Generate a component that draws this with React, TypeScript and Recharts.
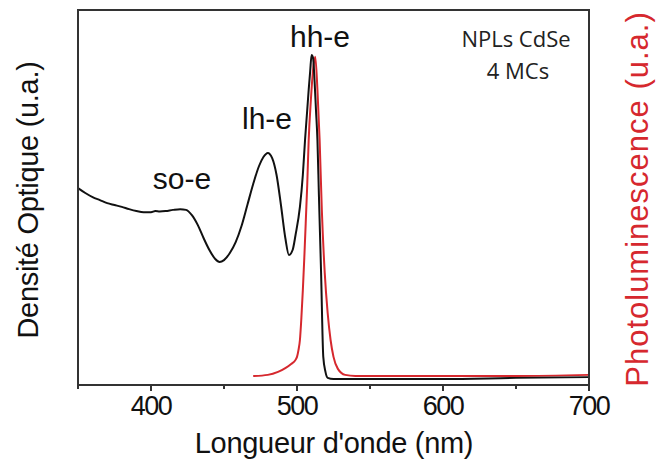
import React from 'react';
import { LineChart, Line, XAxis, YAxis, ReferenceLine } from 'recharts';

// Absorption spectrum (black)
const absWl = [
  350, 355, 360, 365, 370, 375, 380, 385, 390, 395, 400, 403, 406, 410, 415, 420, 424, 428, 432, 436,
  440, 444, 447, 450, 454, 458, 462, 466, 470, 474, 477, 480, 483, 486, 489, 492, 494.5, 497, 499, 502,
  504, 505.5, 507, 508, 509, 510, 511, 512, 513, 514, 515, 516.5, 518, 519.5, 521, 525, 540, 600, 650, 700,
];
const absVal = [
  0.525, 0.512, 0.501, 0.493, 0.485, 0.48, 0.475, 0.469, 0.464, 0.461, 0.461, 0.464, 0.463, 0.464, 0.467, 0.469, 0.467, 0.453, 0.427, 0.392,
  0.36, 0.336, 0.328, 0.333, 0.352, 0.381, 0.424, 0.48, 0.536, 0.584, 0.608, 0.619, 0.605, 0.56, 0.48, 0.392, 0.347, 0.36, 0.4, 0.475,
  0.56, 0.653, 0.733, 0.787, 0.835, 0.88, 0.872, 0.813, 0.733, 0.653, 0.507, 0.299, 0.075, 0.035, 0.019, 0.016, 0.016, 0.016, 0.019, 0.021,
];

// Photoluminescence spectrum (red)
const plWl = [
  470, 480, 487, 492, 496, 499, 500, 501, 502, 503, 504, 505, 505.5, 507, 508, 509.5, 511, 512.5, 514, 515.5,
  517, 519, 521, 523, 525, 528, 533, 540, 600, 650, 700,
];
const plVal = [
  0.024, 0.027, 0.035, 0.045, 0.056, 0.067, 0.075, 0.093, 0.12, 0.179, 0.253, 0.339, 0.387, 0.533, 0.653, 0.76, 0.84, 0.875, 0.787, 0.653,
  0.467, 0.299, 0.192, 0.12, 0.075, 0.043, 0.027, 0.024, 0.024, 0.024, 0.027,
];

const xTicks = [350, 400, 450, 500, 550, 600, 650, 700];
const majorTicks = [400, 500, 600, 700];

const annotations = [
  { text: 'so-e', x: 182, y: 178 },
  { text: 'lh-e', x: 267, y: 118 },
  { text: 'hh-e', x: 320, y: 36 },
];

const rows = (() => {
  const map = new Map<number, { wl: number; abs?: number; pl?: number }>();
  absWl.forEach((w, i) => map.set(w, { ...(map.get(w) || { wl: w }), abs: absVal[i] }));
  plWl.forEach((w, i) => map.set(w, { ...(map.get(w) || { wl: w }), pl: plVal[i] }));
  return Array.from(map.values()).sort((a, b) => a.wl - b.wl);
})();

const FONT = '"Liberation Sans", Arial, sans-serif';
const RED = '#d6282e';
const FRAME = '#333';

const XTick = (props: any) => {
  const { x, y, payload } = props;
  const axisY = y - 12;
  const major = majorTicks.includes(payload.value);
  return (
    <g>
      <line x1={x} x2={x} y1={axisY} y2={axisY + (major ? 6 : 4)} stroke={FRAME} strokeWidth={2} />
      {major && (
        <text x={x} y={axisY + 30} textAnchor="middle" fontFamily={FONT} fontSize={27} letterSpacing={-1.5} fill="#111">
          {payload.value}
        </text>
      )}
    </g>
  );
};

export default function App() {
  return (
    <div style={{ position: 'absolute', left: 0, top: 0, width: 656, height: 470, background: '#fff' }}>
      <LineChart width={656} height={470} data={rows} margin={{ top: 10, right: 0, left: 0, bottom: 0 }}>
        <XAxis
          xAxisId="b"
          dataKey="wl"
          type="number"
          domain={[350, 700]}
          ticks={xTicks}
          height={85}
          tickLine={false}
          tickSize={8}
          tickMargin={4}
          tick={<XTick />}
          axisLine={{ stroke: FRAME, strokeWidth: 2 }}
        />
        <YAxis yAxisId="l" domain={[0, 1]} width={78} tick={false} tickLine={false} axisLine={{ stroke: FRAME, strokeWidth: 2 }} />
        <YAxis yAxisId="r" orientation="right" domain={[0, 1]} width={67} tick={false} tickLine={false} axisLine={false} />
        {/* top and right edges of the box */}
        <ReferenceLine xAxisId="b" yAxisId="l" y={1} stroke={FRAME} strokeWidth={2} ifOverflow="visible" />
        <ReferenceLine xAxisId="b" yAxisId="l" x={700} stroke={FRAME} strokeWidth={2} ifOverflow="visible" />
        <Line
          xAxisId="b"
          yAxisId="l"
          dataKey="pl"
          type="monotone"
          stroke={RED}
          strokeWidth={2}
          dot={false}
          connectNulls
          isAnimationActive={false}
        />
        <Line
          xAxisId="b"
          yAxisId="l"
          dataKey="abs"
          type="monotone"
          stroke="#111"
          strokeWidth={2}
          dot={false}
          connectNulls
          isAnimationActive={false}
        />
        {annotations.map((a) => (
          <text key={a.text} x={a.x} y={a.y} textAnchor="middle" dominantBaseline="central" fontFamily={FONT} fontSize={30} fill="#111">
            {a.text}
          </text>
        ))}
        <text x={516} y={38} textAnchor="middle" dominantBaseline="central" fontFamily='"Open Sans", sans-serif' fontSize={22} fill="#222">
          NPLs CdSe
        </text>
        <text x={518} y={70} textAnchor="middle" dominantBaseline="central" fontFamily='"Open Sans", sans-serif' fontSize={22} fill="#222">
          4 MCs
        </text>
        <text x={334} y={443} textAnchor="middle" dominantBaseline="central" fontFamily={FONT} fontSize={29} letterSpacing={-0.3} fill="#111">
          Longueur d'onde (nm)
        </text>
        <text
          x={28}
          y={200}
          transform="rotate(-90 28 200)"
          textAnchor="middle"
          dominantBaseline="central"
          fontFamily={FONT}
          fontSize={29}
          letterSpacing={-0.3}
          fill="#111"
        >
          Densité Optique (u.a.)
        </text>
        <text
          x={637}
          y={199}
          transform="rotate(-90 637 199)"
          textAnchor="middle"
          dominantBaseline="central"
          fontFamily={FONT}
          fontSize={31}
          letterSpacing={1}
          fill={RED}
        >
          Photoluminescence (u.a.)
        </text>
      </LineChart>
      {/* box around the plot area, in case the reference lines are dropped */}
      <div
        style={{
          position: 'absolute',
          left: 77,
          top: 9,
          width: 509,
          height: 373,
          border: '2px solid #333',
          boxSizing: 'content-box',
          pointerEvents: 'none',
        }}
      />
    </div>
  );
}
